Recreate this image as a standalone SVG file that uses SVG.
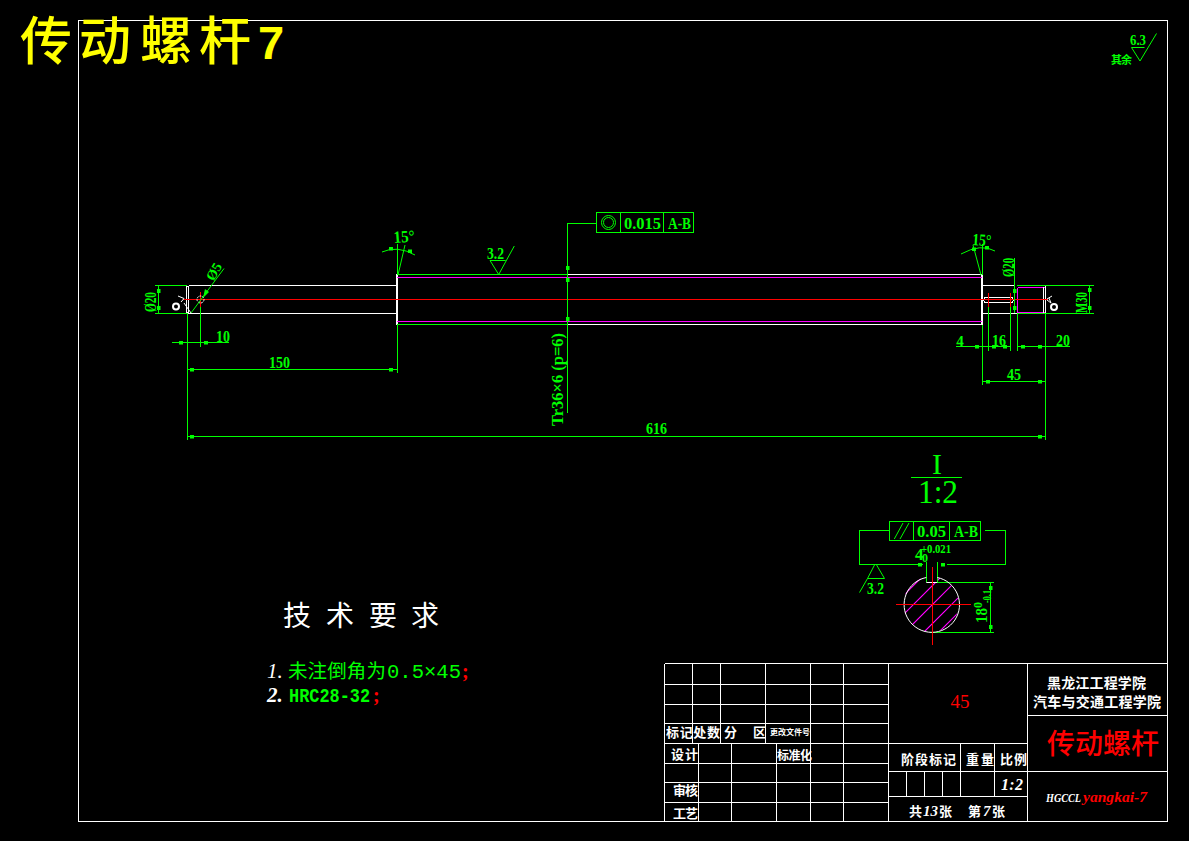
<svg xmlns="http://www.w3.org/2000/svg" width="1189" height="841" viewBox="0 0 1189 841">
<style>
.w{stroke:#fff;fill:none;stroke-width:1}
.g{stroke:#0f0;fill:none;stroke-width:1}
.r{stroke:#f00;fill:none;stroke-width:1}
.m{stroke:#f0f;fill:none;stroke-width:1}
.a{fill:#0f0;stroke:none}
text{font-family:"Liberation Serif","Noto Sans CJK SC",serif}
.cn{font-family:"Noto Sans CJK SC","Liberation Sans",sans-serif}
.tg{fill:#0f0;font-size:17px;font-weight:bold}
.s{font-size:12px}
.tw{fill:#fff}
.tr{fill:#f00}
.tgc{fill:#0f0}
.c{text-anchor:middle}
.h{font-weight:700;font-size:13px}
</style>
<defs><rect id="ah" x="-2" y="-1.500" width="4" height="3.500" class="a"/><rect id="av" x="-1.500" y="-2" width="3.500" height="4" class="a"/></defs>
<rect width="1189" height="841" fill="#000"/>
<g id="frame" shape-rendering="crispEdges">
<rect class="w" x="78.5" y="20.5" width="1089" height="801"/>
</g>
<text class="cn" y="60" x="20 79 140 199" font-size="52" font-weight="500" fill="#ff0">传动螺杆</text>
<text x="258" y="59" font-size="47" font-weight="700" fill="#ff0" style="font-family:'Liberation Sans',sans-serif">7</text>
<g id="roughness-note">
<path class="g" d="M1131.5 47.5H1144.5M1131.5 47.5L1140 61L1156.5 33.5"/>
<text x="1130" y="45" class="tg" style="font-size:14px" textLength="16" lengthAdjust="spacingAndGlyphs">6.3</text>
<text x="1111" y="64" class="cn" font-size="11" font-weight="700" fill="#0f0" textLength="21">其余</text>
</g>
<g id="shaft" shape-rendering="crispEdges">
<path class="w" d="M188.5 285.5H397M188.5 313.5H397M188.5 285.5V313.5M186.5 287V312M186.5 287L188.5 285.5M186.5 312L188.5 313.5"/>
<path class="w" style="stroke-width:2" d="M397 274V325M982 274V325"/>
<path class="g" d="M397 274.5H568M397 324.5H568"/>
<path class="w" d="M568 274.5H982M568 324.5H982"/>
<path class="m" d="M397 277.5H982M397 321.5H982M1017.5 287.5H1045M1017.5 312.5H1045M1017.5 287.5V312.5"/>
<path class="w" d="M982 285.5H1014M982 313.5H1017M1045.5 285.5V313.5M1043.5 287V313"/>
<path class="w" d="M985 297.5H1012M985 302.5H1012M985 297.5L983.500 300L985 302.5M1012 297.5L1013.500 300L1012 302.5"/>
<path class="r" d="M183 299.500H1048"/>
<path class="r" d="M200.500 292V307M988.500 293V307M1010.500 293V307"/>
</g>
<circle class="w" cx="200.500" cy="299.500" r="3.500" stroke-dasharray="2 1"/>
<g id="shaft-marks">
<path class="w" d="M191 313L184 303M178 296L184 298.500L181 302M1047 299L1052 296M1047 300L1051 303L1049 298"/>
<circle class="w" cx="176" cy="306.500" r="3" style="stroke-width:2"/>
<circle class="w" cx="1054" cy="307" r="3" style="stroke-width:2"/>
</g>
<g id="connectors" shape-rendering="crispEdges">
<path class="g" d="M155 285.500H187M155 313.500H187M158.500 285.500V313.500"/>
<path class="g" d="M187.500 313V440M172 342.500H229M200.500 307V347M187 369.500H397M397.500 325V373M187 436.500H1045M1045.500 314V440"/>
<path class="g" d="M397.500 244V275M982.500 244V275M982.500 325V385M982 381.500H1045"/>
<path class="g" d="M1014.500 258V313M1017 285.500H1094M1017 313.500H1094M1089.500 285.500V313.500"/>
<path class="g" d="M956 346.500H1010M1017 346.500H1070M988.500 307V351M1010.500 307V351M1017.500 313V351"/>
<path class="g" d="M596 223.500H567.500V413"/>
<rect class="g" x="596.500" y="212.500" width="97" height="20"/>
<path class="g" d="M620.500 212V232M663.500 212V232"/>
<rect class="g" x="889.500" y="521.500" width="91" height="19"/>
<path class="g" d="M913.500 521V540M949.500 521V540M889 530.500H859.500V564.500H923M985 530.500H1005.500V564.500H947M926.500 562V582M937.500 562V582M937 582.500H994M930 632.500H994M990.500 582.500V632.500"/>
</g>
<g id="angled-lines">
<path class="g" d="M191 313L224 268.500M382 252Q397 245 415 255M405 245L398 275M961 254Q981 243 995 251M973 245L981 275"/>
<path class="g" d="M875 564L867.500 578.500H884.500L876 564M867.500 578.500L859.500 592.500"/>
<path class="g" d="M490 260.500H505.700M490 260.500L498.700 274.500L514.300 246"/>
<circle class="g" cx="608.500" cy="222.500" r="7"/>
<circle class="g" cx="608.500" cy="222.500" r="5"/>
<path class="g" d="M894.300 539L903 523M900 539L909 523"/>
</g>
<g id="arrows">
<use href="#av" x="158.500" y="291"/><use href="#av" x="158.500" y="308"/>
<use href="#ah" x="181" y="342.500"/><use href="#ah" x="206" y="342.500"/>
<use href="#ah" x="192" y="369.500"/><use href="#ah" x="391" y="369.500"/>
<use href="#ah" x="192" y="436.500"/><use href="#ah" x="1040" y="436.500"/>
<use href="#ah" x="391" y="248.500"/><use href="#ah" x="410" y="251"/>
<use href="#ah" x="974" y="249"/><use href="#ah" x="987" y="247.500"/>
<use href="#av" x="1014.500" y="291"/><use href="#av" x="1014.500" y="308"/>
<use href="#av" x="1089.500" y="290"/><use href="#av" x="1089.500" y="308"/>
<use href="#ah" x="977" y="346.500"/><use href="#ah" x="994" y="346.500"/><use href="#ah" x="1005" y="346.500"/>
<use href="#ah" x="1023" y="346.500"/><use href="#ah" x="1040" y="346.500"/>
<use href="#ah" x="988" y="381.500"/><use href="#ah" x="1040" y="381.500"/>
<use href="#av" x="567.500" y="268"/><use href="#av" x="567.500" y="280"/><use href="#av" x="567.500" y="319"/>
<use href="#ah" x="920" y="564.500"/><use href="#ah" x="943" y="564.500"/>
<use href="#av" x="990.500" y="588"/><use href="#av" x="990.500" y="627"/>
<path class="a" d="M203 298L205 289L209 292Z"/>
</g>
<g id="dim-labels">
<text class="tg" x="216" y="342" textLength="14" lengthAdjust="spacingAndGlyphs">10</text>
<text class="tg" x="269" y="368" textLength="21" lengthAdjust="spacingAndGlyphs">150</text>
<text class="tg" x="646" y="434" textLength="21" lengthAdjust="spacingAndGlyphs">616</text>
<text class="tg" x="487" y="259" textLength="17" lengthAdjust="spacingAndGlyphs">3.2</text>
<text class="tg c" x="960" y="346" style="font-size:15px">4</text>
<text class="tg" x="992" y="346" textLength="14" lengthAdjust="spacingAndGlyphs">16</text>
<text class="tg" x="1056" y="346" textLength="14" lengthAdjust="spacingAndGlyphs">20</text>
<text class="tg" x="1007" y="380" textLength="14" lengthAdjust="spacingAndGlyphs">45</text>
<text class="tg" transform="translate(156 312) rotate(-90)" textLength="20" lengthAdjust="spacingAndGlyphs">Ø20</text>
<text class="tg c" transform="translate(218 274) rotate(-60)" style="font-size:14px">Ø5</text>
<text class="tg" transform="translate(1014 277) rotate(-90)" textLength="19" lengthAdjust="spacingAndGlyphs">Ø20</text>
<text class="tg" transform="translate(1087 313) rotate(-90)" textLength="21" lengthAdjust="spacingAndGlyphs">M30</text>
<text class="tg" transform="translate(394 243) rotate(-4)" textLength="21" lengthAdjust="spacingAndGlyphs">15°</text>
<text class="tg" transform="translate(972 245) rotate(4)" textLength="19" lengthAdjust="spacingAndGlyphs">15°</text>
<text class="tg" transform="translate(563 426) rotate(-90)" textLength="93" lengthAdjust="spacingAndGlyphs">Tr36×6 (p=6)</text>
<text class="tg" x="624" y="229" textLength="37" lengthAdjust="spacingAndGlyphs">0.015</text>
<text class="tg" x="668" y="229" textLength="23" lengthAdjust="spacingAndGlyphs">A-B</text>
<text class="tg" x="917" y="537" textLength="29" lengthAdjust="spacingAndGlyphs">0.05</text>
<text class="tg" x="954" y="537" textLength="24" lengthAdjust="spacingAndGlyphs">A-B</text>
<text class="tg" x="867" y="594" textLength="17" lengthAdjust="spacingAndGlyphs">3.2</text>
<text class="tg" x="915" y="560">4</text>
<text class="tg s" x="921" y="553" textLength="30" lengthAdjust="spacingAndGlyphs">+0.021</text>
<text class="tg s" x="922" y="562">0</text>
<text class="tg" transform="translate(987 623) rotate(-90)" textLength="15" lengthAdjust="spacingAndGlyphs">18</text>
<text class="tg s" transform="translate(982 608) rotate(-90)">0</text>
<text class="tg s" transform="translate(991 603) rotate(-90)" textLength="13" lengthAdjust="spacingAndGlyphs">-0.1</text>
<text class="c" x="937" y="474" font-size="30" fill="#0f0">I</text>
<rect x="911" y="477" width="51" height="1" fill="#0f0"/>
<text x="918" y="503" font-size="33" fill="#0f0" textLength="40" lengthAdjust="spacingAndGlyphs">1:2</text>
</g>
<g id="section">
<defs><clipPath id="cp"><path d="M903.300 604.300A27.700 27.700 0 0 0 958.700 604.300A27.700 27.700 0 0 0 903.300 604.300ZM926 574V582.500H938V574Z" clip-rule="evenodd"/></clipPath></defs>
<g clip-path="url(#cp)">
<path class="m" style="stroke-width:1.200" d="M880 619L980 519M880 638L980 538M880 657L980 557M880 676L980 576M880 691L980 591"/>
</g>
<path class="w" d="M926.300 577.500A27.700 27.700 0 1 0 937.300 577.500M926.300 582.500H937.300"/>
<path class="r" d="M932.500 567V645M896 604.500H971"/>
</g>
<g id="tech-notes">
<text class="cn tw" font-size="28" y="626" x="283 326 369 411">技术要求</text>
<text x="267" y="678" fill="#fff" font-size="21" font-style="italic">1.</text>
<text x="288" y="678" class="cn tgc" font-size="19.500" textLength="98">未注倒角为</text>
<text x="387" y="678" fill="#0f0" font-size="20" style="font-family:'Liberation Mono',monospace" textLength="74" lengthAdjust="spacingAndGlyphs">0.5×45</text>
<text x="462" y="678" fill="#f00" font-size="20" font-weight="700">;</text>
<text x="267" y="702" fill="#fff" font-size="21" font-style="italic" font-weight="700">2.</text>
<text x="289" y="702" fill="#0f0" font-size="20" style="font-family:'Liberation Mono',monospace" font-weight="700" textLength="81" lengthAdjust="spacingAndGlyphs">HRC28-32</text>
<text x="373" y="702" fill="#f00" font-size="20" font-weight="700">;</text>
</g>
<g id="title-block" shape-rendering="crispEdges">
<path class="w" d="M664.500 663.500H1167M664.500 663.500V821M888.500 663.500V821M1027.500 663.500V821"/>
<path class="w" d="M664.500 684.500H888M664.500 704.500H888M664.500 723.500H888M664.500 743.500H1027M664.500 763.500H888M664.500 782.500H888M664.500 802.500H888M888 771.500H1167M888 796.500H1027M1027 715.500H1167"/>
<path class="w" d="M692.500 663.500V743M720.500 663.500V743M765.500 663.500V743M810.500 663.500V821M843.500 663.500V821M698.500 743.500V821M731.500 743.500V821M776.500 743.500V821"/>
<path class="w" d="M960.500 743.500V796M994.500 743.500V796M906.500 771.500V796M924.500 771.500V796M942.500 771.500V796"/>
</g>
<g id="title-text">
<text class="cn tw h" x="666" y="737" textLength="54">标记处数</text>
<text class="cn tw h" x="724" y="737">分</text>
<text class="cn tw h" x="753" y="737">区</text>
<text class="cn tw" font-weight="700" font-size="8" x="770" y="735" textLength="40">更改文件号</text>
<text class="cn tw h" x="671" y="759" textLength="27">设计</text>
<text class="cn tw" font-weight="700" font-size="12" x="777" y="760" textLength="35">标准化</text>
<text class="cn tw h" x="673" y="795" textLength="25">审核</text>
<text class="cn tw h" x="673" y="818" textLength="25">工艺</text>
<text class="cn tw h" x="901" y="764" textLength="55">阶段标记</text>
<text class="cn tw h" x="966" y="764" textLength="28">重量</text>
<text class="cn tw h" x="1000" y="764" textLength="27">比例</text>
<text x="1001" y="790" fill="#fff" font-size="16" font-style="italic" font-weight="700" textLength="22">1:2</text>
<text class="cn tw h" x="909" y="816">共</text>
<text x="923" y="816" fill="#fff" font-size="15" font-style="italic" font-weight="700">13</text>
<text class="cn tw h" x="939" y="816">张</text>
<text class="cn tw h" x="968" y="816">第</text>
<text x="983" y="816" fill="#fff" font-size="15" font-style="italic" font-weight="700">7</text>
<text class="cn tw h" x="992" y="816">张</text>
<text x="960" y="708" class="c tr" font-size="19">45</text>
<text class="cn tw" font-weight="700" font-size="14" x="1047" y="688" textLength="99">黑龙江工程学院</text>
<text class="cn tw" font-weight="700" font-size="14" x="1033" y="707" textLength="128">汽车与交通工程学院</text>
<text class="cn tr" font-weight="500" font-size="28" x="1047" y="754" textLength="112">传动螺杆</text>
<text x="1046" y="802" fill="#fff" font-size="13" font-style="italic" font-weight="700" textLength="35" lengthAdjust="spacingAndGlyphs">HGCCL</text>
<text x="1083" y="802" fill="#f00" font-size="14" font-style="italic" font-weight="700" textLength="64" lengthAdjust="spacingAndGlyphs">yangkai-7</text>
</g>
</svg>
